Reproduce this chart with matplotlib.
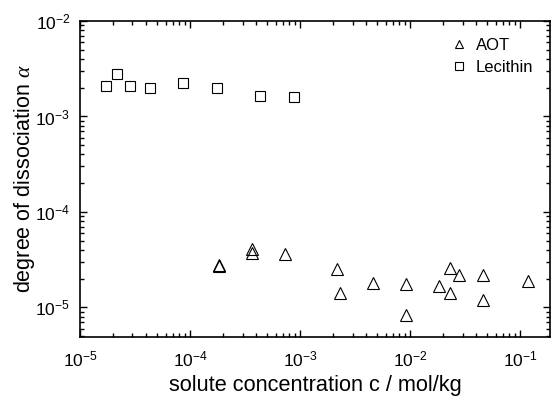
import matplotlib.pyplot as plt
from matplotlib.ticker import LogLocator, NullFormatter

plt.rcParams['font.family'] = ['Liberation Sans', 'DejaVu Sans']
plt.rcParams['mathtext.fontset'] = 'custom'
plt.rcParams['mathtext.rm'] = 'Liberation Sans'
plt.rcParams['mathtext.it'] = 'Liberation Serif:italic'

# AOT data
aot_c = [1.85e-4, 1.85e-4, 3.66e-4, 3.66e-4, 7.3e-4,
         2.15e-3, 2.31e-3, 4.6e-3, 9.2e-3, 9.2e-3,
         1.85e-2, 2.33e-2, 2.33e-2, 2.8e-2, 4.6e-2, 4.6e-2, 0.117]
aot_alpha = [2.8e-5, 2.7e-5, 4.05e-5, 3.75e-5, 3.6e-5,
             2.5e-5, 1.42e-5, 1.81e-5, 1.74e-5, 8.4e-6,
             1.69e-5, 2.57e-5, 1.4e-5, 2.16e-5, 2.16e-5, 1.21e-5, 1.88e-5]

# Lecithin data
lec_c = [1.72e-5, 2.15e-5, 2.86e-5, 4.3e-5, 8.7e-5, 1.75e-4, 4.35e-4, 8.8e-4]
lec_alpha = [2.07e-3, 2.81e-3, 2.07e-3, 1.99e-3, 2.26e-3, 1.97e-3, 1.64e-3, 1.6e-3]

fig = plt.figure(figsize=(5.55, 3.97), dpi=100)
ax = fig.add_axes([80/555, 1-337/397, 470/555, 316/397])

ax.plot(aot_c, aot_alpha, linestyle='none', marker='^', markersize=8,
        markerfacecolor='none', markeredgecolor='black', markeredgewidth=0.8, label='AOT')
ax.plot(lec_c, lec_alpha, linestyle='none', marker='s', markersize=7,
        markerfacecolor='none', markeredgecolor='black', markeredgewidth=0.8, label='Lecithin')

ax.set_xscale('log')
ax.set_yscale('log')
ax.set_xlim(1e-5, 0.187)
ax.set_ylim(4.9e-6, 1e-2)

for a in (ax.xaxis, ax.yaxis):
    a.set_major_locator(LogLocator(base=10, numticks=12))
    a.set_minor_locator(LogLocator(base=10, subs=range(2, 10), numticks=12))
    a.set_minor_formatter(NullFormatter())

ax.tick_params(which='both', direction='in', top=True, right=True, width=1)
ax.tick_params(which='major', length=5, labelsize=12.5)
ax.tick_params(axis='x', which='major', pad=9)
ax.tick_params(axis='y', which='major', pad=7)
ax.tick_params(which='minor', length=3)
for s in ax.spines.values():
    s.set_linewidth(1.2)

ax.set_xlabel('solute concentration c / mol/kg', fontsize=15.7, labelpad=4)
ax.set_ylabel(r'degree of dissociation $\alpha$', fontsize=15.5, labelpad=-1)

ax.legend(loc='upper right', frameon=False, fontsize=12, handlelength=1.0,
          handletextpad=0.5, borderaxespad=0.6, labelspacing=0.45, markerscale=0.8)

fig.savefig('out.png', dpi=100)
